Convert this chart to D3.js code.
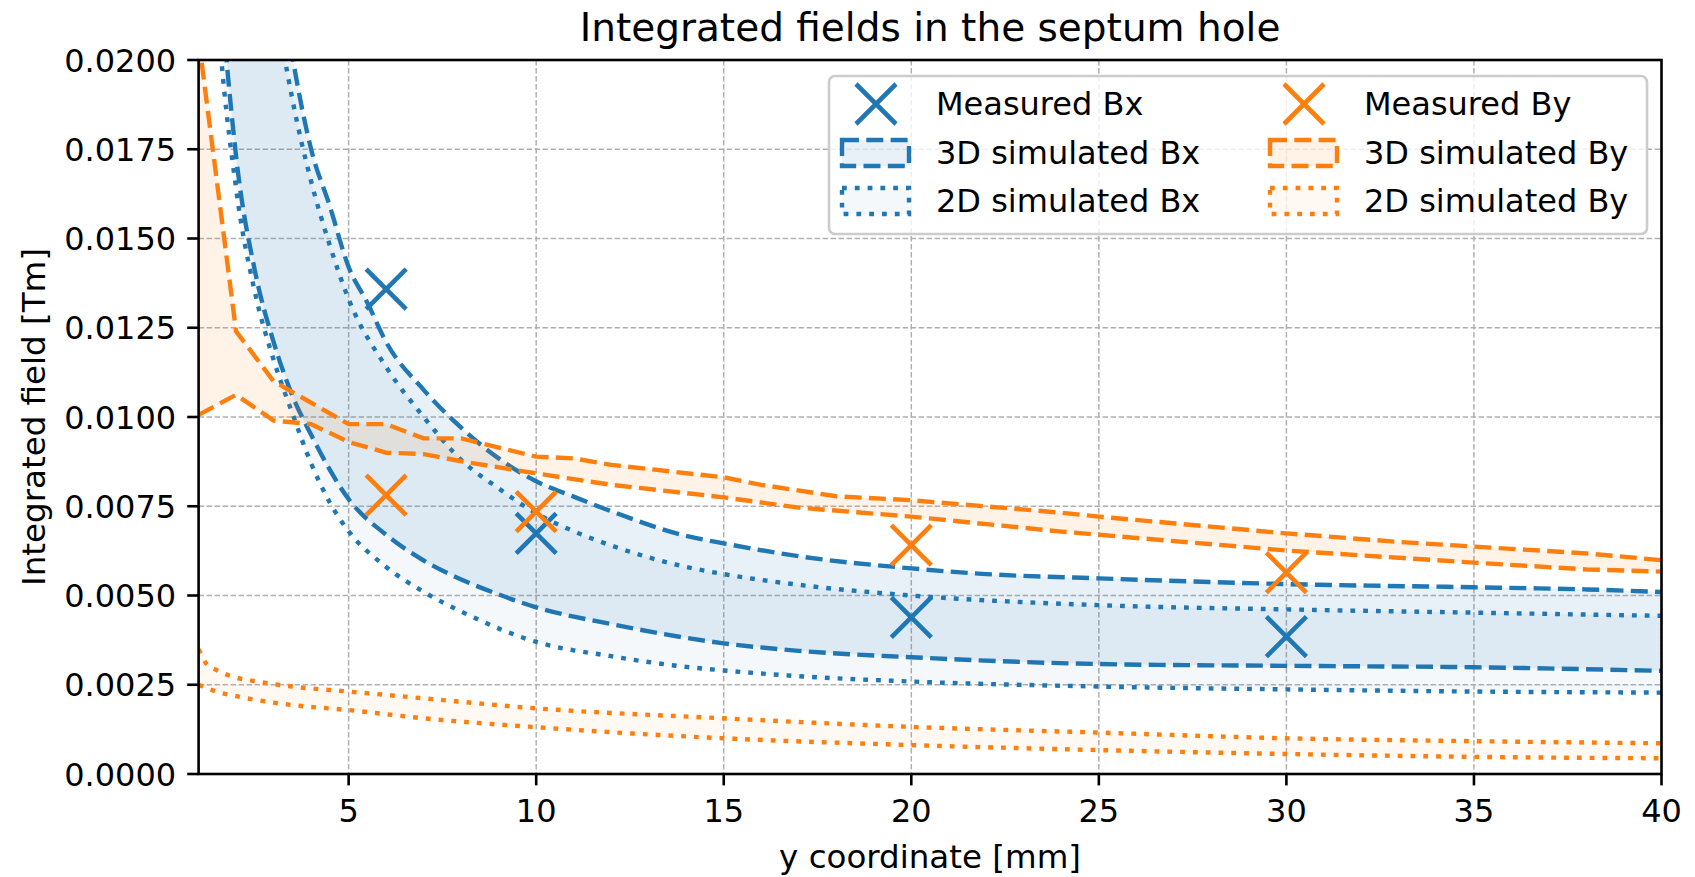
<!DOCTYPE html>
<html><head><meta charset="utf-8">
<script src="https://cdn.jsdelivr.net/npm/d3@7"></script>
<style>
body{margin:0;background:#fff}
svg{display:block}
text{font-family:"DejaVu Sans",sans-serif;fill:#000}
</style>
</head><body>
<svg id="chart" width="1695" height="877"></svg>
<script>
// ---- data ----
const title = "Integrated fields in the septum hole";
const xLabel = "y coordinate [mm]";
const yLabel = "Integrated field [Tm]";
const xTicks = [5, 10, 15, 20, 25, 30, 35, 40];
const yTicks = [0, 0.0025, 0.005, 0.0075, 0.01, 0.0125, 0.015, 0.0175, 0.02];

const measuredPos = [6, 10, 20, 30];
const measuredBx = [0.01358, 0.00674, 0.00439, 0.00385];
const measuredBy = [0.00781, 0.00735, 0.00641, 0.00564];

const bx3dUpperX = [2, 3, 3.5, 4, 4.5, 5, 5.5, 6, 7, 8, 9, 10, 11, 12, 14, 15, 17, 20, 22, 25, 30, 35, 38, 40];
const bx3dUpper  = [0.036, 0.0236, 0.0201, 0.0175, 0.0159, 0.0142, 0.0132, 0.0121, 0.01076, 0.0097, 0.00884, 0.0082, 0.00777, 0.00736, 0.00667, 0.00646, 0.0061, 0.00576, 0.0056, 0.00548, 0.00532, 0.00523, 0.00517, 0.0051];
const bx3dLowerX = [1, 1.5, 2, 2.5, 3, 3.5, 4, 5, 6, 7, 8, 9, 10, 12, 15, 17, 20, 25, 30, 35, 40];
const bx3dLower  = [0.034, 0.0235, 0.0173, 0.0141, 0.0121, 0.0106, 0.0095, 0.0077, 0.0067, 0.00598, 0.00545, 0.00503, 0.00467, 0.0042, 0.00366, 0.00345, 0.00327, 0.00308, 0.00303, 0.00299, 0.00289];

const bx2dUpperX = [2, 2.5, 3, 3.5, 4, 4.5, 5, 6, 7, 8, 9, 10, 11, 12, 14, 15, 17, 20, 25, 30, 35, 40];
const bx2dUpper  = [0.033, 0.0264, 0.022, 0.0189, 0.0166, 0.0148, 0.0133, 0.0114, 0.0100, 0.0088, 0.0080, 0.0073, 0.0068, 0.0064, 0.0058, 0.0056, 0.0053, 0.0050, 0.00473, 0.00461, 0.00452, 0.00443];
const bx2dLowerX = [1, 1.5, 2, 2.5, 3, 3.5, 4, 4.5, 5, 6, 7, 8, 10, 12, 14, 15, 17, 20, 25, 30, 35, 40];
const bx2dLower  = [0.032, 0.0215, 0.0164, 0.0135, 0.0116, 0.0101, 0.0087, 0.0076, 0.0068, 0.0058, 0.0051, 0.00455, 0.0037, 0.0033, 0.0030, 0.0029, 0.00274, 0.00259, 0.00245, 0.00237, 0.00231, 0.00228];

const by3dUpperX = [1, 2, 3, 4, 5, 6, 7, 8, 10, 11, 12, 15, 16, 18, 20, 24, 25, 30, 33, 35, 38, 40];
const by3dUpper  = [0.0206, 0.0124, 0.0110, 0.0104, 0.0098, 0.0098, 0.0094, 0.0094, 0.00889, 0.00884, 0.00866, 0.00831, 0.0081, 0.00778, 0.00767, 0.00732, 0.00721, 0.00674, 0.0065, 0.00637, 0.00618, 0.00599];
const by3dLowerX = [1, 2, 3, 4, 5, 6, 7, 8, 10, 12, 15, 17, 20, 24, 25, 30, 35, 38, 40];
const by3dLower  = [0.01006, 0.01062, 0.0099, 0.0098, 0.0093, 0.009, 0.00896, 0.00876, 0.00842, 0.0081, 0.00775, 0.00746, 0.00721, 0.00679, 0.0067, 0.00626, 0.00592, 0.00573, 0.00567];

const by2dUpperX = [1, 1.2, 1.5, 2, 2.5, 3.5, 5, 7, 10, 15, 20, 25, 30, 35, 40];
const by2dUpper  = [0.0035, 0.0031, 0.0029, 0.0027, 0.0026, 0.00245, 0.00231, 0.00212, 0.00184, 0.00156, 0.00132, 0.00116, 0.001, 0.00092, 0.00086];
const by2dLowerX = [1, 1.5, 2, 2.5, 3.5, 5, 7, 10, 15, 20, 25, 30, 35, 40];
const by2dLower  = [0.0025, 0.0023, 0.00218, 0.00208, 0.00193, 0.00179, 0.00156, 0.00131, 0.001, 0.00081, 0.00067, 0.00056, 0.00048, 0.00044];

const legendLabels = ["Measured Bx", "3D simulated Bx", "2D simulated Bx", "Measured By", "3D simulated By", "2D simulated By"];

// ---- layout ----
const W = 1695, H = 877;
const M = {left: 198.6, right: 1661.5, top: 60, bottom: 774};
const BLUE = "#1f77b4", ORANGE = "#ff7f0e";
const LW = 4.4;
const DASH = "17,7.3", DOT = "4.8,8";

const svg = d3.select("#chart");
const x = d3.scaleLinear().domain([1, 40]).range([M.left, M.right]);
const y = d3.scaleLinear().domain([0, 0.02]).range([M.bottom, M.top]);

svg.append("defs").append("clipPath").attr("id", "clip")
  .append("rect").attr("x", M.left).attr("y", M.top)
  .attr("width", M.right - M.left).attr("height", M.bottom - M.top);

// grid
const grid = svg.append("g");
grid.selectAll("line.gx").data(xTicks).join("line")
  .attr("x1", d => x(d)).attr("x2", d => x(d)).attr("y1", M.top).attr("y2", M.bottom)
  .attr("stroke", "#b0b0b0").attr("stroke-width", 1.5).attr("stroke-dasharray", "5.5,2.5");
grid.selectAll("line.gy").data(yTicks).join("line")
  .attr("x1", M.left).attr("x2", M.right).attr("y1", d => y(d)).attr("y2", d => y(d))
  .attr("stroke", "#b0b0b0").attr("stroke-width", 1.5).attr("stroke-dasharray", "5.5,2.5");

const plot = svg.append("g").attr("clip-path", "url(#clip)");

function pts(xs, vs) { return xs.map((d, i) => [x(d), y(vs[i])]); }

function band(upX, up, loX, lo, color, alpha, dash, curve) {
  const line = d3.line().curve(curve);
  const U = pts(upX, up), L = pts(loX, lo);
  const dU = line(U), dL = line(L.slice().reverse());
  plot.append("path").attr("d", dU + dL.replace(/^M/, "L") + "Z")
    .attr("fill", color).attr("fill-opacity", alpha).attr("stroke", "none");
  [U, L].forEach(P => {
    plot.append("path").attr("d", line(P)).attr("fill", "none")
      .attr("stroke", color).attr("stroke-width", LW).attr("stroke-dasharray", dash);
  });
}

band(bx3dUpperX, bx3dUpper, bx3dLowerX, bx3dLower, BLUE, 0.1, DASH, d3.curveMonotoneX);
band(bx2dUpperX, bx2dUpper, bx2dLowerX, bx2dLower, BLUE, 0.05, DOT, d3.curveMonotoneX);
band(by3dUpperX, by3dUpper, by3dLowerX, by3dLower, ORANGE, 0.1, DASH, d3.curveLinear);
band(by2dUpperX, by2dUpper, by2dLowerX, by2dLower, ORANGE, 0.05, DOT, d3.curveMonotoneX);

// markers
const MS = 20;
function xMark(g, cx, cy, color) {
  g.append("path").attr("d", `M${cx-MS},${cy-MS}L${cx+MS},${cy+MS}M${cx-MS},${cy+MS}L${cx+MS},${cy-MS}`)
    .attr("stroke", color).attr("stroke-width", 4.6).attr("fill", "none");
}
measuredPos.forEach((p, i) => xMark(plot, x(p), y(measuredBx[i]), BLUE));
measuredPos.forEach((p, i) => xMark(plot, x(p), y(measuredBy[i]), ORANGE));

// axes frame
svg.append("rect").attr("x", M.left).attr("y", M.top)
  .attr("width", M.right - M.left).attr("height", M.bottom - M.top)
  .attr("fill", "none").attr("stroke", "#000").attr("stroke-width", 2.6);

// ticks
const TL = 11.4;
const ax = svg.append("g");
ax.selectAll("line.tx").data(xTicks).join("line")
  .attr("x1", d => x(d)).attr("x2", d => x(d)).attr("y1", M.bottom).attr("y2", M.bottom + TL)
  .attr("stroke", "#000").attr("stroke-width", 2.6);
ax.selectAll("text.tx").data(xTicks).join("text")
  .attr("x", d => x(d)).attr("y", M.bottom + 48).attr("text-anchor", "middle")
  .attr("font-size", 32).text(d => d);
ax.selectAll("line.ty").data(yTicks).join("line")
  .attr("x1", M.left - TL).attr("x2", M.left).attr("y1", d => y(d)).attr("y2", d => y(d))
  .attr("stroke", "#000").attr("stroke-width", 2.6);
ax.selectAll("text.ty").data(yTicks).join("text")
  .attr("x", M.left - TL - 11).attr("y", d => y(d)).attr("dy", "0.36em").attr("text-anchor", "end")
  .attr("font-size", 32).text(d => d3.format(".4f")(d));

// labels
svg.append("text").attr("x", (M.left + M.right) / 2).attr("y", 868).attr("text-anchor", "middle")
  .attr("font-size", 32.5).text(xLabel);
svg.append("text").attr("transform", `translate(45,${(M.top + M.bottom) / 2}) rotate(-90)`)
  .attr("text-anchor", "middle").attr("font-size", 32.5).text(yLabel);
svg.append("text").attr("x", (M.left + M.right) / 2).attr("y", 41).attr("text-anchor", "middle")
  .attr("font-size", 39).text(title);

// legend
const lg = svg.append("g");
lg.append("rect").attr("x", 829).attr("y", 76).attr("width", 818).attr("height", 158).attr("rx", 6)
  .attr("fill", "#fff").attr("fill-opacity", 0.8).attr("stroke", "#cccccc").attr("stroke-width", 2.6);
const cols = [{hx: 842, tx: 936, color: BLUE}, {hx: 1270, tx: 1364, color: ORANGE}];
const rowsY = [104, 153, 201];
cols.forEach((c, ci) => {
  xMark(lg, c.hx + 34, rowsY[0], c.color);
  [[DASH, 0.1], [DOT, 0.05]].forEach((s, si) => {
    lg.append("rect").attr("x", c.hx).attr("y", rowsY[si + 1] - 13).attr("width", 67).attr("height", 26)
      .attr("fill", c.color).attr("fill-opacity", s[1]).attr("stroke", c.color)
      .attr("stroke-width", LW).attr("stroke-dasharray", s[0]);
  });
  rowsY.forEach((ry, ri) => {
    lg.append("text").attr("x", c.tx).attr("y", ry + 11).attr("font-size", 32)
      .text(legendLabels[ci * 3 + ri]);
  });
});
</script>
</body></html>
